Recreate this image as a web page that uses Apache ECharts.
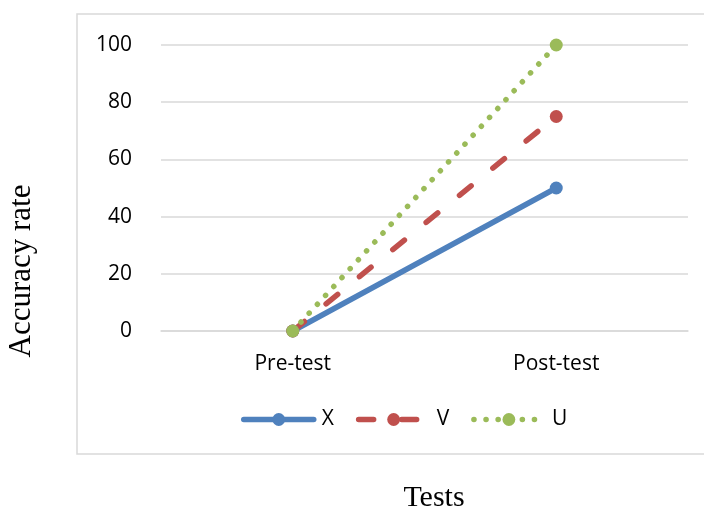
<!DOCTYPE html>
<html>
<head>
<meta charset="utf-8">
<script src="https://cdn.jsdelivr.net/npm/echarts@6/dist/echarts.min.js"></script>
<style>
  html, body { margin: 0; padding: 0; background: #fff; }
  #chart { width: 704px; height: 511px; }
</style>
</head>
<body>
<div id="chart"></div>
<script>
// Test phases on the category axis
const categories = ['Pre-test', 'Post-test'];
// Accuracy rate per group
const seriesX = [0, 50];
const seriesV = [0, 75];
const seriesU = [0, 100];
const yTicks = { min: 0, max: 100, interval: 20 };

const labelFont = '"Open Sans", sans-serif';
const titleFont = '"Liberation Serif", "Times New Roman", serif';

const chart = echarts.init(document.getElementById('chart'), null, { renderer: 'canvas' });

function lineSeries(name, data, color, lineType) {
  return {
    name: name,
    type: 'line',
    data: data,
    symbol: 'circle',
    symbolSize: 13,
    showSymbol: true,
    itemStyle: { color: color },
    lineStyle: { color: color, width: 5.5, type: lineType, cap: 'round' },
    emphasis: { disabled: true },
    z: 3
  };
}

chart.setOption({
  animation: false,
  backgroundColor: '#ffffff',
  graphic: [
    {
      type: 'rect',
      shape: { x: 77, y: 14, width: 700, height: 440 },
      style: { fill: 'none', stroke: '#d9d9d9', lineWidth: 1.5 },
      z: -1
    },
    {
      type: 'text',
      x: 22, y: 271,
      rotation: Math.PI / 2,
      style: {
        text: 'Accuracy rate',
        font: '31px ' + titleFont,
        fill: '#000',
        align: 'center',
        verticalAlign: 'middle'
      }
    },
    {
      type: 'text',
      x: 434, y: 498,
      style: {
        text: 'Tests',
        font: '30px ' + titleFont,
        fill: '#000',
        align: 'center',
        verticalAlign: 'middle'
      }
    }
  ],
  grid: { left: 161, right: 16, top: 45, bottom: 180, containLabel: false },
  legend: {
    left: 236,
    top: 404,
    itemWidth: 70,
    itemHeight: 16,
    itemGap: 22,
    lineStyle: { width: 5.5, cap: 'round' },
    textStyle: { fontFamily: labelFont, fontSize: 21, color: '#000', padding: [0, 0, 0, 3] },
    data: ['X', 'V', 'U']
  },
  xAxis: {
    type: 'category',
    data: categories,
    boundaryGap: true,
    axisLine: { show: true, lineStyle: { color: '#d9d9d9', width: 1.5 } },
    axisTick: { show: false },
    axisLabel: { fontFamily: labelFont, fontSize: 21, color: '#000', margin: 23 }
  },
  yAxis: {
    type: 'value',
    min: yTicks.min,
    max: yTicks.max,
    interval: yTicks.interval,
    axisLine: { show: false },
    axisTick: { show: false },
    splitLine: { show: true, lineStyle: { color: '#d9d9d9', width: 1.5 } },
    axisLabel: { fontFamily: labelFont, fontSize: 21, color: '#000', margin: 29 }
  },
  series: [
    lineSeries('X', seriesX, '#4f81bd', 'solid'),
    lineSeries('V', seriesV, '#c0504d', [15, 28]),
    lineSeries('U', seriesU, '#9bbb59', [0.1, 12])
  ]
});
</script>
</body>
</html>
